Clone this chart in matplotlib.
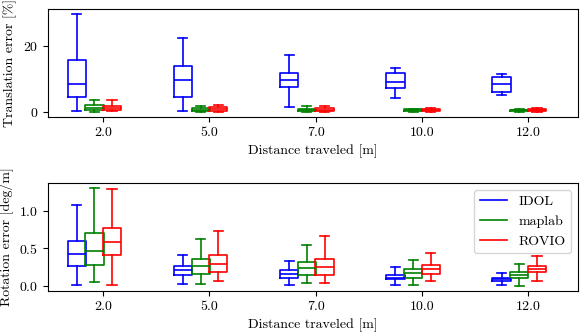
import numpy as np
import matplotlib
matplotlib.use("Agg")
import matplotlib.pyplot as plt

plt.rcParams['font.family'] = 'serif'
plt.rcParams['font.serif'] = ['cmr10']
plt.rcParams['mathtext.fontset'] = 'cm'
plt.rcParams['axes.formatter.use_mathtext'] = True
plt.rcParams['font.size'] = 10

distances = ['2.0', '5.0', '7.0', '10.0', '12.0']
methods = ['IDOL', 'maplab', 'ROVIO']
colors = ['blue', 'green', 'red']

# box stats per distance: (whislo, q1, med, q3, whishi)
trans_idol = [(0.4, 4.4, 8.4, 15.8, 29.6), (0.2, 4.4, 9.7, 13.8, 22.3),
              (1.4, 7.5, 9.7, 11.8, 17.3), (4.3, 7.3, 9.0, 11.9, 13.4),
              (5.2, 6.0, 8.4, 10.7, 11.6)]
trans_maplab = [(0.1, 0.6, 1.2, 2.0, 3.7), (0.1, 0.4, 0.7, 1.2, 1.9),
                (0.0, 0.2, 0.6, 1.0, 1.7), (0.1, 0.3, 0.5, 0.8, 1.0),
                (0.1, 0.3, 0.5, 0.7, 0.9)]
trans_rovio = [(0.2, 0.7, 1.3, 1.9, 3.5), (0.1, 0.4, 0.9, 1.4, 2.2),
               (0.0, 0.3, 0.7, 1.2, 1.9), (0.1, 0.3, 0.6, 0.9, 1.2),
               (0.1, 0.3, 0.6, 0.9, 1.1)]

rot_idol = [(0.02, 0.27, 0.43, 0.60, 1.07), (0.03, 0.14, 0.21, 0.26, 0.41),
            (0.02, 0.11, 0.16, 0.21, 0.33), (0.02, 0.09, 0.11, 0.14, 0.25),
            (0.01, 0.07, 0.09, 0.11, 0.17)]
rot_maplab = [(0.05, 0.28, 0.46, 0.70, 1.30), (0.03, 0.16, 0.26, 0.36, 0.62),
              (0.04, 0.14, 0.24, 0.32, 0.55), (0.02, 0.11, 0.17, 0.23, 0.35),
              (0.00, 0.11, 0.15, 0.19, 0.29)]
rot_rovio = [(0.01, 0.41, 0.58, 0.77, 1.29), (0.06, 0.19, 0.29, 0.41, 0.73),
             (0.04, 0.15, 0.25, 0.36, 0.66), (0.06, 0.16, 0.23, 0.28, 0.44),
             (0.07, 0.18, 0.23, 0.26, 0.40)]

offsets = [-0.25, -0.083, 0.083]
width = 0.172


def to_stats(rows):
    return [dict(whislo=r[0], q1=r[1], med=r[2], q3=r[3], whishi=r[4], fliers=[])
            for r in rows]


def draw(ax, series):
    base = np.arange(len(distances))
    for data, off, c in zip(series, offsets, colors):
        props = dict(color=c, linewidth=1.2)
        ax.bxp(to_stats(data), positions=base + off, widths=width,
               boxprops=props, medianprops=props, whiskerprops=props,
               capprops=props, showfliers=False, manage_ticks=False)
    ax.set_xticks(base)
    ax.set_xticklabels(distances)
    ax.set_xlim(-0.52, 4.47)
    ax.set_xlabel('Distance traveled [m]')


fig = plt.figure(figsize=(5.81, 3.34), dpi=100)
ax1 = fig.add_axes([0.0826, 0.650, 0.9124, 0.323])
ax2 = fig.add_axes([0.0826, 0.129, 0.9124, 0.323])

draw(ax1, [trans_idol, trans_maplab, trans_rovio])
ax1.set_yticks([0, 20])
ax1.set_ylabel('Translation error [%]')

draw(ax2, [rot_idol, rot_maplab, rot_rovio])
ax2.set_yticks([0.0, 0.5, 1.0])
ax2.set_ylabel('Rotation error [deg/m]')
handles = [plt.Line2D([], [], color=c, linewidth=1.2) for c in colors]
ax2.legend(handles, methods, loc='upper right')

fig.savefig('out.png', dpi=100)
